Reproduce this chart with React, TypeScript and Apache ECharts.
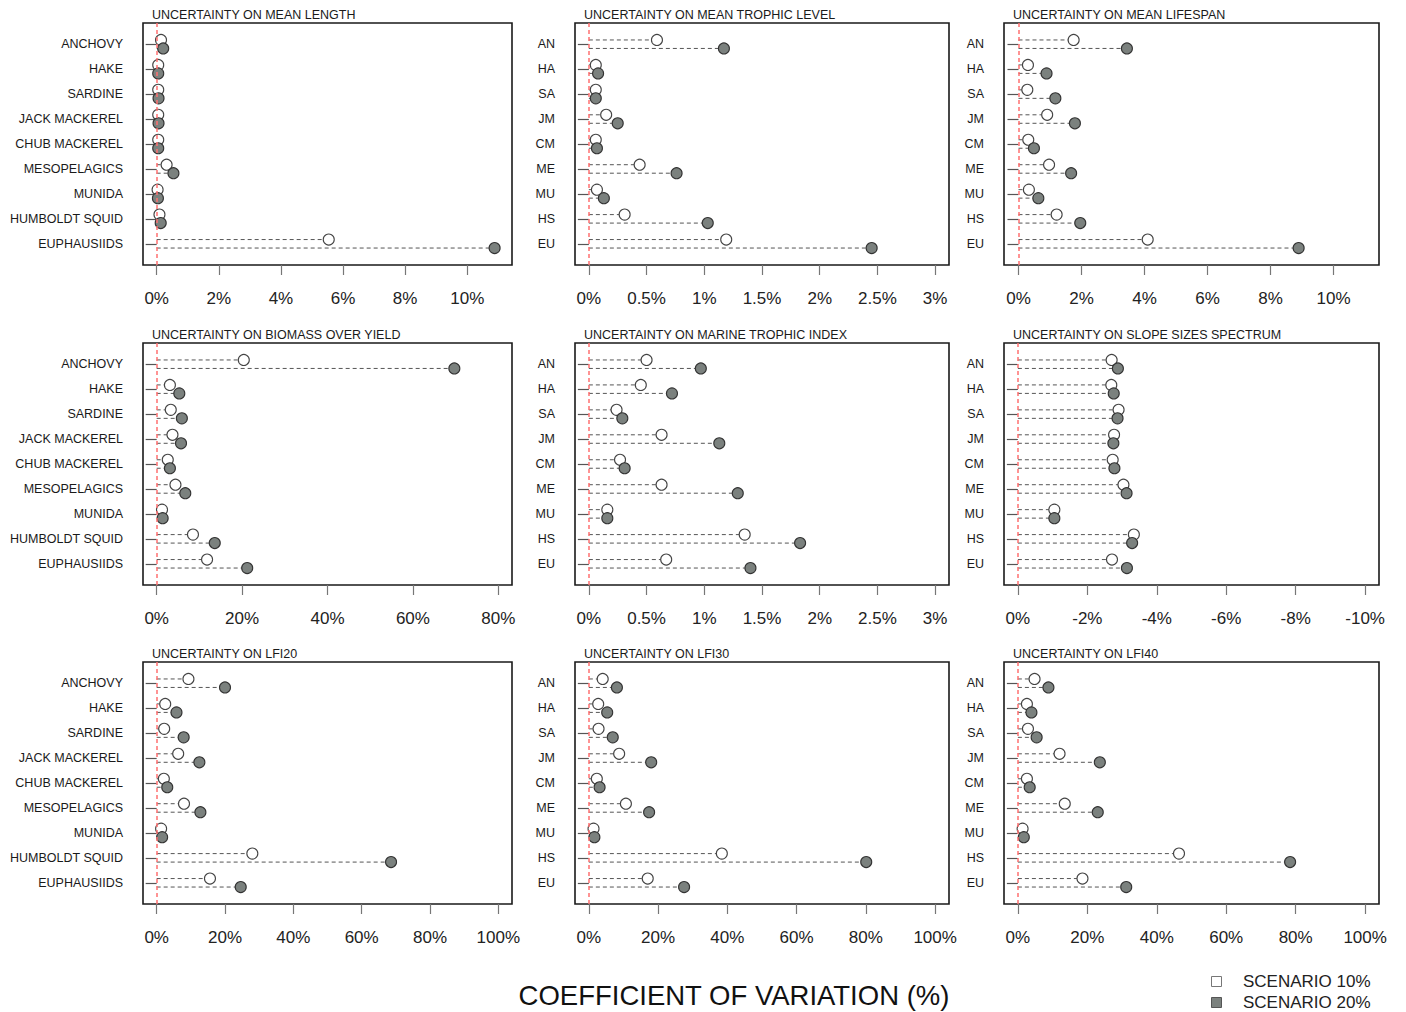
import React, { useEffect, useRef } from "react";
import * as echarts from "echarts";

// ---------- DATA ----------
const SPECIES_FULL = [
  "ANCHOVY",
  "HAKE",
  "SARDINE",
  "JACK MACKEREL",
  "CHUB MACKEREL",
  "MESOPELAGICS",
  "MUNIDA",
  "HUMBOLDT SQUID",
  "EUPHAUSIIDS",
];
const SPECIES_ABBR = ["AN", "HA", "SA", "JM", "CM", "ME", "MU", "HS", "EU"];

const MEAN_LENGTH_10 = [0.14, 0.05, 0.05, 0.05, 0.05, 0.32, 0.03, 0.09, 5.54];
const MEAN_LENGTH_20 = [0.21, 0.05, 0.06, 0.06, 0.05, 0.54, 0.04, 0.13, 10.88];

const MEAN_TROPHIC_10 = [0.59, 0.06, 0.06, 0.15, 0.06, 0.44, 0.07, 0.31, 1.19];
const MEAN_TROPHIC_20 = [1.17, 0.08, 0.06, 0.25, 0.07, 0.76, 0.13, 1.03, 2.45];

const MEAN_LIFESPAN_10 = [1.75, 0.3, 0.28, 0.91, 0.31, 0.97, 0.33, 1.21, 4.1];
const MEAN_LIFESPAN_20 = [3.44, 0.89, 1.17, 1.79, 0.49, 1.67, 0.63, 1.96, 8.89];

const BIOMASS_YIELD_10 = [20.4, 3.1, 3.3, 3.7, 2.6, 4.4, 1.25, 8.5, 11.8];
const BIOMASS_YIELD_20 = [69.7, 5.3, 5.9, 5.7, 3.1, 6.7, 1.4, 13.6, 21.2];

const MTI_10 = [0.5, 0.45, 0.24, 0.63, 0.27, 0.63, 0.16, 1.35, 0.67];
const MTI_20 = [0.97, 0.72, 0.29, 1.13, 0.31, 1.29, 0.16, 1.83, 1.4];

const SLOPE_10 = [-2.7, -2.69, -2.9, -2.77, -2.73, -3.04, -1.05, -3.34, -2.71];
const SLOPE_20 = [-2.88, -2.76, -2.87, -2.75, -2.78, -3.13, -1.05, -3.29, -3.14];

const LFI20_10 = [9.3, 2.5, 2.2, 6.3, 2.1, 8.0, 1.3, 28.0, 15.6];
const LFI20_20 = [20.0, 5.8, 7.9, 12.5, 3.1, 12.8, 1.6, 68.6, 24.6];

const LFI30_10 = [4.0, 2.7, 2.8, 8.75, 2.3, 10.7, 1.35, 38.4, 17.0];
const LFI30_20 = [8.1, 5.3, 6.9, 18.0, 3.1, 17.4, 1.6, 80.1, 27.5];

const LFI40_10 = [4.8, 2.6, 2.9, 12.0, 2.6, 13.5, 1.35, 46.4, 18.6];
const LFI40_20 = [8.8, 3.9, 5.4, 23.6, 3.4, 23.0, 1.7, 78.4, 31.2];

const TICKS_0_10 = [0, 2, 4, 6, 8, 10];
const TICKS_0_3 = [0, 0.5, 1, 1.5, 2, 2.5, 3];
const TICKS_0_80 = [0, 20, 40, 60, 80];
const TICKS_SLOPE = [0, -2, -4, -6, -8, -10];
const TICKS_0_100 = [0, 20, 40, 60, 80, 100];

const TITLES = [
  "UNCERTAINTY ON MEAN LENGTH",
  "UNCERTAINTY ON MEAN TROPHIC LEVEL",
  "UNCERTAINTY ON MEAN LIFESPAN",
  "UNCERTAINTY ON BIOMASS OVER YIELD",
  "UNCERTAINTY ON MARINE TROPHIC INDEX",
  "UNCERTAINTY ON SLOPE SIZES SPECTRUM",
  "UNCERTAINTY ON LFI20",
  "UNCERTAINTY ON LFI30",
  "UNCERTAINTY ON LFI40",
];

const SERIES_NAMES = ["SCENARIO 10%", "SCENARIO 20%"];
const AXIS_TITLE = "COEFFICIENT OF VARIATION (%)";

// ---------- LAYOUT / STYLE ----------
const NARROW = "'Liberation Sans Narrow', 'Arial Narrow', 'Liberation Sans', sans-serif";
const REG = "'Liberation Sans', Arial, Helvetica, sans-serif";
const COL_LEFT = [143, 575, 1004];
const COL_WIDTH = [369, 374, 375];
const ROW_TOP = [23, 343, 662];
const BOX_H = 242;
const DOT_OFFSET = 0.17;
const FILL_GRAY = "#7b817e";

type Panel = {
  title: string;
  labels: string[];
  v10: number[];
  v20: number[];
  ticks: number[];
  min: number;
  max: number;
  inverse?: boolean;
};

const PANELS: Panel[] = [
  { title: TITLES[0], labels: SPECIES_FULL, v10: MEAN_LENGTH_10, v20: MEAN_LENGTH_20, ticks: TICKS_0_10, min: -0.44, max: 11.44 },
  { title: TITLES[1], labels: SPECIES_ABBR, v10: MEAN_TROPHIC_10, v20: MEAN_TROPHIC_20, ticks: TICKS_0_3, min: -0.12, max: 3.12 },
  { title: TITLES[2], labels: SPECIES_ABBR, v10: MEAN_LIFESPAN_10, v20: MEAN_LIFESPAN_20, ticks: TICKS_0_10, min: -0.46, max: 11.44 },
  { title: TITLES[3], labels: SPECIES_FULL, v10: BIOMASS_YIELD_10, v20: BIOMASS_YIELD_20, ticks: TICKS_0_80, min: -3.2, max: 83.2 },
  { title: TITLES[4], labels: SPECIES_ABBR, v10: MTI_10, v20: MTI_20, ticks: TICKS_0_3, min: -0.12, max: 3.12 },
  { title: TITLES[5], labels: SPECIES_ABBR, v10: SLOPE_10, v20: SLOPE_20, ticks: TICKS_SLOPE, min: -10.4, max: 0.4, inverse: true },
  { title: TITLES[6], labels: SPECIES_FULL, v10: LFI20_10, v20: LFI20_20, ticks: TICKS_0_100, min: -4, max: 104 },
  { title: TITLES[7], labels: SPECIES_ABBR, v10: LFI30_10, v20: LFI30_20, ticks: TICKS_0_100, min: -4, max: 104 },
  { title: TITLES[8], labels: SPECIES_ABBR, v10: LFI40_10, v20: LFI40_20, ticks: TICKS_0_100, min: -4, max: 104 },
];

function buildOption() {
  const grid: any[] = [];
  const xAxis: any[] = [];
  const yAxis: any[] = [];
  const series: any[] = [];
  const title: any[] = [];
  const catPositions = SPECIES_FULL.map((_, i) => i + 1);

  PANELS.forEach((p, k) => {
    const r = Math.floor(k / 3);
    const c = k % 3;
    grid.push({
      left: COL_LEFT[c],
      top: ROW_TOP[r],
      width: COL_WIDTH[c],
      height: BOX_H,
      show: true,
      borderColor: "#1a1a1a",
      borderWidth: 1.6,
      backgroundColor: "transparent",
      containLabel: false,
      outerBoundsMode: "none",
    });
    title.push({
      text: p.title,
      left: COL_LEFT[c] + 9,
      top: ROW_TOP[r] - 15,
      padding: 0,
      textStyle: { fontSize: 12.5, fontWeight: "normal", fontFamily: NARROW, color: "#1a1a1a" },
    });
    xAxis.push({
      type: "value",
      gridIndex: k,
      min: p.min,
      max: p.max,
      inverse: !!p.inverse,
      axisLine: { show: false },
      splitLine: { show: false },
      axisTick: { show: true, length: 10, customValues: p.ticks, lineStyle: { color: "#777", width: 1.2 } },
      axisLabel: {
        customValues: p.ticks,
        margin: 25,
        fontSize: 17,
        fontFamily: REG,
        color: "#222",
        formatter: (v: number) => `${v}%`,
      },
    });
    yAxis.push({
      type: "value",
      gridIndex: k,
      inverse: true,
      min: 0.15,
      max: 9.85,
      axisLine: { show: false },
      splitLine: { show: false },
      axisTick: { show: true, length: 11, customValues: catPositions, lineStyle: { color: "#555", width: 1.2 } },
      axisLabel: {
        customValues: catPositions,
        margin: 20,
        fontSize: 12.5,
        fontFamily: NARROW,
        color: "#1a1a1a",
        formatter: (v: number) => p.labels[Math.round(v) - 1] ?? "",
      },
    });

    const lineData: number[][] = [];
    p.v10.forEach((v, i) => lineData.push([v, i + 1 - DOT_OFFSET]));
    p.v20.forEach((v, i) => lineData.push([v, i + 1 + DOT_OFFSET]));

    series.push({
      type: "custom",
      xAxisIndex: k,
      yAxisIndex: k,
      silent: true,
      data: lineData,
      encode: { x: 0, y: 1 },
      renderItem: (_params: any, api: any) => {
        const y = api.value(1);
        const p0 = api.coord([0, y]);
        const p1 = api.coord([api.value(0), y]);
        return {
          type: "line",
          shape: { x1: p0[0], y1: p0[1], x2: p1[0], y2: p1[1] },
          style: { stroke: "#555", lineWidth: 1, lineDash: [4, 3] },
        };
      },
      markLine: {
        silent: true,
        symbol: ["none", "none"],
        label: { show: false },
        lineStyle: { color: "#ff7070", width: 1.5, type: [4, 3] },
        data: [{ xAxis: 0 }],
      },
    });
    series.push({
      type: "scatter",
      name: SERIES_NAMES[0],
      xAxisIndex: k,
      yAxisIndex: k,
      symbol: "circle",
      symbolSize: 11,
      itemStyle: { color: "#ffffff", borderColor: "#444", borderWidth: 1.1, opacity: 1 },
      data: p.v10.map((v, i) => [v, i + 1 - DOT_OFFSET]),
    });
    series.push({
      type: "scatter",
      name: SERIES_NAMES[1],
      xAxisIndex: k,
      yAxisIndex: k,
      symbol: "circle",
      symbolSize: 11,
      itemStyle: { color: FILL_GRAY, borderColor: "#333", borderWidth: 1.1, opacity: 1 },
      data: p.v20.map((v, i) => [v, i + 1 + DOT_OFFSET]),
    });
  });

  const graphic: any[] = [
    {
      type: "text",
      x: 734,
      y: 995,
      style: {
        text: AXIS_TITLE,
        fontSize: 27.5,
        fontFamily: REG,
        fill: "#111",
        textAlign: "center",
        textVerticalAlign: "middle",
      },
    },
    {
      type: "rect",
      shape: { x: 1211.5, y: 976.5, width: 10, height: 10 },
      style: { fill: "#fff", stroke: "#777", lineWidth: 1 },
    },
    {
      type: "rect",
      shape: { x: 1211.5, y: 997.5, width: 10, height: 10 },
      style: { fill: FILL_GRAY, stroke: "#555", lineWidth: 1 },
    },
    {
      type: "text",
      x: 1243,
      y: 981.5,
      style: { text: SERIES_NAMES[0], fontSize: 17, fontFamily: REG, fill: "#222", textVerticalAlign: "middle" },
    },
    {
      type: "text",
      x: 1243,
      y: 1002.5,
      style: { text: SERIES_NAMES[1], fontSize: 17, fontFamily: REG, fill: "#222", textVerticalAlign: "middle" },
    },
  ];

  return {
    animation: false,
    backgroundColor: "#ffffff",
    title,
    grid,
    xAxis,
    yAxis,
    series,
    graphic,
  };
}

export default function App() {
  const ref = useRef<HTMLDivElement>(null);
  useEffect(() => {
    document.body.style.margin = "0";
    if (!ref.current) return;
    const chart = echarts.init(ref.current, undefined, { renderer: "svg" });
    chart.setOption(buildOption() as any);
    return () => chart.dispose();
  }, []);
  return <div ref={ref} style={{ width: 1406, height: 1012 }} />;
}
